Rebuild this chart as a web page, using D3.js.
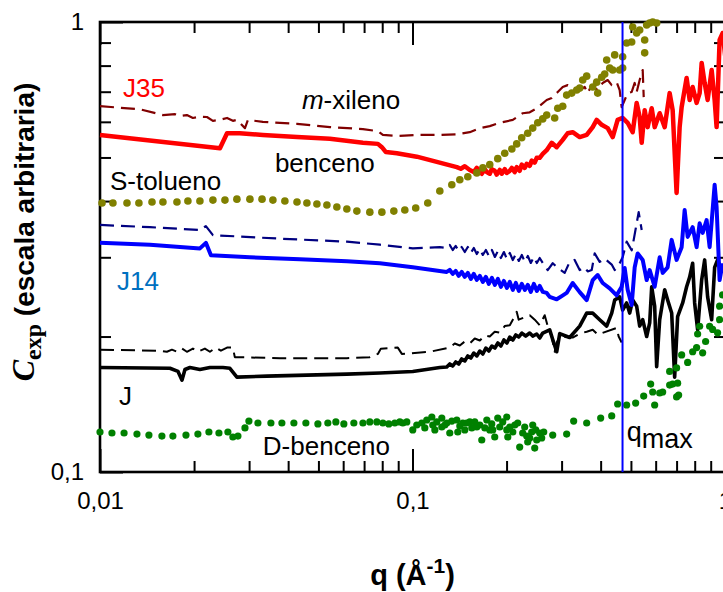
<!DOCTYPE html>
<html><head><meta charset="utf-8">
<script src="https://cdn.jsdelivr.net/npm/d3@7"></script>
<style>
html,body{margin:0;padding:0;background:#fff;}
svg{display:block;}
</style></head><body>
<svg id="chart" width="723" height="592"></svg>
<script>
// C_exp(q) curves, [q (Å^-1), C_exp] pairs

const benceno = [
[0.0100,0.561],[0.0242,0.524],[0.0255,0.566],[0.0280,0.566],[0.0332,0.561],[0.0427,0.555],[0.0544,0.550],[0.0694,0.539],[0.0775,0.536],[0.0798,0.527],[0.0822,0.514],[0.0891,0.511],[0.1032,0.502],[0.1196,0.489],[0.1386,0.476],[0.1427,0.472],[0.147,0.478],[0.1525,0.469],[0.1571,0.464],[0.1606,0.474],[0.1642,0.467],[0.1666,0.460],[0.1704,0.471],[0.1729,0.464],[0.1767,0.460],[0.1793,0.471],[0.1833,0.467],[0.186,0.458],[0.1902,0.469],[0.1930,0.460],[0.1973,0.471],[0.2003,0.462],[0.2048,0.467],[0.2078,0.474],[0.2125,0.464],[0.2155,0.476],[0.2203,0.467],[0.2236,0.482],[0.2286,0.474],[0.2320,0.484],[0.2372,0.479],[0.2407,0.492],[0.2461,0.487],[0.2497,0.499],[0.2553,0.499],[0.2611,0.509],[0.2688,0.519],[0.2789,0.539],[0.2894,0.527],[0.3025,0.547],[0.3137,0.566],[0.3255,0.569],[0.3428,0.555],[0.3609,0.561],[0.3773,0.584],[0.3885,0.606],[0.4031,0.591],[0.4213,0.581],[0.4372,0.555],[0.4534,0.606],[0.4704,0.612],[0.4881,0.597],[0.5065,0.569],[0.5216,0.661],[0.5333,0.615],[0.5413,0.539],[0.5533,0.637],[0.5657,0.584],[0.5827,0.643],[0.5956,0.584],[0.6180,0.627],[0.6412,0.584],[0.6651,0.695],[0.680,0.637],[0.700,0.417],[0.7159,0.584],[0.7266,0.647],[0.7537,0.751],[0.7707,0.671],[0.788,0.717],[0.8113,0.661],[0.8296,0.695],[0.842,0.811],[0.8607,0.732],[0.8799,0.671],[0.9063,0.782],[0.9265,0.671],[0.940,0.584],[0.961,0.912],[0.9825,0.945],[1.005,0.823]
];

const mXileno = [
[0.0100,0.650],[0.01342,0.640],[0.0159,0.621],[0.01738,0.624],[0.01803,0.618],[0.01897,0.621],[0.01983,0.612],[0.02088,0.616],[0.02199,0.615],[0.02298,0.603],[0.0242,0.606],[0.0255,0.612],[0.02662,0.603],[0.02742,0.606],[0.0291,0.581],[0.02974,0.606],[0.0332,0.600],[0.0427,0.594],[0.0544,0.584],[0.0694,0.578],[0.0775,0.572],[0.0804,0.561],[0.0891,0.558],[0.1032,0.561],[0.1196,0.561],[0.1386,0.563],[0.1525,0.569],[0.1642,0.581],[0.1767,0.587],[0.1902,0.597],[0.2094,0.606],[0.2252,0.627],[0.2372,0.630],[0.2497,0.643],[0.2688,0.671],[0.2789,0.678],[0.2916,0.699],[0.3025,0.717],[0.3137,0.724],[0.3255,0.713],[0.3428,0.706],[0.3557,0.717],[0.3636,0.695],[0.3745,0.724],[0.3828,0.713],[0.3914,0.706],[0.4061,0.732],[0.4213,0.743],[0.434,0.724],[0.4501,0.735],[0.4602,0.706],[0.4670,0.647],[0.4775,0.671],[0.4881,0.695],[0.5028,0.699],[0.514,0.732],[0.5216,0.699],[0.5333,0.743],[0.5453,0.782],[0.5494,0.681]
];

const sTolueno = [
[0.01015,0.396],[0.0110,0.396],[0.0122,0.396],[0.01332,0.396],[0.01467,0.398],[0.0159,0.398],[0.01763,0.398],[0.01911,0.400],[0.02088,0.400],[0.02298,0.402],[0.02511,0.402],[0.02742,0.404],[0.03018,0.404],[0.0330,0.404],[0.03575,0.402],[0.03905,0.400],[0.0427,0.398],[0.04593,0.396],[0.04944,0.394],[0.05322,0.392],[0.05727,0.388],[0.06165,0.384],[0.06637,0.380],[0.07302,0.378],[0.0798,0.378],[0.08715,0.380],[0.0945,0.382],[0.1024,0.386],[0.1119,0.396],[0.1223,0.421],[0.1336,0.435],[0.1417,0.446],[0.1503,0.453],[0.1606,0.462],[0.1679,0.474],[0.1767,0.482],[0.1874,0.497],[0.1973,0.511],[0.2079,0.522],[0.2155,0.536],[0.2236,0.553],[0.2337,0.566],[0.2425,0.581],[0.2516,0.597],[0.261,0.609],[0.2688,0.621],[0.2851,0.612],[0.2916,0.643],[0.3025,0.650],[0.3114,0.688],[0.3232,0.695],[0.3353,0.706],[0.3428,0.713],[0.3505,0.743],[0.3609,0.758],[0.3773,0.717],[0.3885,0.735],[0.3914,0.695],[0.4031,0.754],[0.4121,0.766],[0.4182,0.823],[0.4276,0.790],[0.4372,0.782],[0.4436,0.845],[0.4602,0.782],[0.4704,0.790],[0.4704,0.837],[0.4845,0.898],[0.5028,0.903],[0.5065,0.975],[0.5216,0.945],[0.5333,0.960],[0.5533,0.912],[0.5533,0.854],[0.5615,0.985],[0.5741,0.995],[0.587,1.0],[0.6044,0.995]
];

const j14Dashed = [
[0.0100,0.354],[0.01445,0.350],[0.02088,0.345],[0.02182,0.352],[0.02298,0.336],[0.03764,0.330],[0.06165,0.325],[0.07862,0.320],[0.1002,0.314],[0.1223,0.316],[0.1287,0.3146],[0.1316,0.3195],[0.1345,0.3114],[0.1375,0.3179],[0.1406,0.3098],[0.1437,0.3162],[0.147,0.3082],[0.1503,0.3162],[0.1537,0.3067],[0.1571,0.3146],[0.1606,0.3051],[0.1642,0.3130],[0.1679,0.3036],[0.1717,0.3114],[0.1755,0.3020],[0.1795,0.3114],[0.1835,0.3005],[0.1876,0.3098],[0.1918,0.2989],[0.1961,0.3082],[0.2005,0.2974],[0.2048,0.3067],[0.2094,0.2959],[0.2141,0.3051],[0.2189,0.2944],[0.2238,0.3036],[0.2288,0.2929],[0.2339,0.3020],[0.2391,0.2914],[0.2445,0.3005],[0.2500,0.2914],[0.2553,0.2989],[0.2611,0.2914],[0.2708,0.281],[0.281,0.291],[0.2916,0.284],[0.3069,0.277],[0.3184,0.293],[0.3303,0.296],[0.3428,0.281],[0.3557,0.285],[0.3636,0.279],[0.3745,0.281],[0.3828,0.306],[0.3972,0.293],[0.4121,0.298],[0.434,0.289],[0.4436,0.281],[0.4602,0.291],[0.4704,0.300],[0.4845,0.325],[0.5028,0.311],[0.5103,0.328],[0.5216,0.357],[0.5294,0.378],[0.5413,0.345]
];

const j14 = [
[0.0100,0.323],[0.01445,0.320],[0.02088,0.314],[0.02182,0.323],[0.02265,0.303],[0.03018,0.300],[0.04362,0.297],[0.06165,0.294],[0.07862,0.291],[0.1002,0.285],[0.1287,0.2784],[0.1316,0.2812],[0.1345,0.2756],[0.1375,0.2798],[0.1406,0.2728],[0.1437,0.2784],[0.147,0.2714],[0.1503,0.2770],[0.1537,0.2686],[0.1571,0.2756],[0.1606,0.2672],[0.1642,0.2728],[0.1679,0.2645],[0.1717,0.2714],[0.1755,0.2618],[0.1795,0.2700],[0.1835,0.2605],[0.1876,0.2686],[0.1918,0.2578],[0.1961,0.2658],[0.2005,0.2565],[0.2048,0.2645],[0.2094,0.2539],[0.2141,0.2631],[0.2189,0.2526],[0.2238,0.2618],[0.2288,0.2539],[0.2339,0.2605],[0.2391,0.2513],[0.2445,0.2618],[0.2500,0.2526],[0.2553,0.2591],[0.2611,0.2513],[0.2688,0.250],[0.2748,0.245],[0.2894,0.242],[0.3003,0.246],[0.3114,0.250],[0.3255,0.263],[0.3428,0.251],[0.3609,0.241],[0.3773,0.267],[0.3914,0.274],[0.4061,0.263],[0.4276,0.256],[0.4501,0.247],[0.467,0.258],[0.4775,0.284],[0.4881,0.254],[0.5028,0.235],[0.514,0.285],[0.5255,0.306],[0.5453,0.296],[0.5615,0.267],[0.5741,0.281],[0.5956,0.258],[0.618,0.300],[0.6318,0.277],[0.6553,0.285],[0.6751,0.328],[0.700,0.296],[0.7266,0.316],[0.7427,0.382],[0.7594,0.333],[0.788,0.350],[0.8113,0.316],[0.8296,0.357],[0.8482,0.340],[0.8733,0.363],[0.893,0.316],[0.9265,0.435],[0.940,0.388],[0.961,0.267],[0.9825,0.291]
];

const jDashed = [
[0.0100,0.187],[0.01555,0.186],[0.01637,0.185],[0.01699,0.187],[0.01763,0.185],[0.0183,0.188],[0.01897,0.185],[0.01983,0.188],[0.02057,0.185],[0.02166,0.188],[0.02248,0.185],[0.0235,0.189],[0.02438,0.186],[0.0255,0.189],[0.02662,0.189],[0.0270,0.180],[0.03764,0.179],[0.06165,0.179],[0.07302,0.180],[0.0775,0.183],[0.0792,0.188],[0.08974,0.189],[0.09245,0.183],[0.1136,0.185],[0.1316,0.189],[0.1365,0.193],[0.1417,0.191],[0.147,0.195],[0.1525,0.193],[0.1582,0.198],[0.1642,0.196],[0.1704,0.201],[0.1767,0.200],[0.1833,0.205],[0.1902,0.204],[0.1973,0.211],[0.2048,0.212],[0.2094,0.218],[0.2155,0.227],[0.2187,0.218],[0.2372,0.223],[0.2461,0.218],[0.2553,0.212],[0.2649,0.223],[0.2708,0.211],[0.2789,0.200],[0.2851,0.185],[0.2894,0.194],[0.2959,0.200],[0.3255,0.199],[0.3428,0.203],[0.3609,0.205],[0.3773,0.207],[0.3914,0.202],[0.4501,0.209],[0.4568,0.200],[0.467,0.194]
];

const j = [
[0.0100,0.1707],[0.01674,0.170],[0.01777,0.1673],[0.0183,0.160],[0.0187,0.169],[0.0194,0.1707],[0.02088,0.169],[0.02248,0.1707],[0.02474,0.1707],[0.02604,0.170],[0.02742,0.1625],[0.0342,0.1633],[0.06165,0.165],[0.07862,0.166],[0.1002,0.1673],[0.1223,0.1707],[0.1287,0.1711],[0.1316,0.1738],[0.1345,0.1720],[0.1375,0.1756],[0.1406,0.1738],[0.1437,0.1783],[0.147,0.1765],[0.1503,0.1811],[0.1537,0.1792],[0.1571,0.1838],[0.1606,0.1811],[0.1642,0.1857],[0.1679,0.1829],[0.1717,0.1886],[0.1755,0.1857],[0.1795,0.1905],[0.1835,0.1886],[0.1876,0.1935],[0.1918,0.1905],[0.1961,0.1965],[0.2005,0.1935],[0.2048,0.1995],[0.2094,0.1965],[0.2141,0.2016],[0.2189,0.1995],[0.2238,0.2036],[0.2303,0.2005],[0.2372,0.2036],[0.2425,0.2005],[0.2497,0.2026],[0.2553,0.1985],[0.2611,0.2036],[0.2748,0.207],[0.281,0.197],[0.2894,0.185],[0.2959,0.203],[0.3184,0.199],[0.3428,0.211],[0.3609,0.2255],[0.3773,0.2255],[0.3972,0.218],[0.4182,0.211],[0.434,0.2255],[0.4436,0.241],[0.4602,0.245],[0.4704,0.229],[0.4845,0.2375],[0.4954,0.2255],[0.5065,0.241],[0.5216,0.2335],[0.5333,0.211],[0.5453,0.218],[0.5615,0.200],[0.5741,0.2145],[0.5827,0.258],[0.5956,0.2335],[0.6044,0.1715],[0.618,0.218],[0.6412,0.254],[0.6553,0.241],[0.6751,0.2255],[0.690,0.1625],[0.7054,0.2215],[0.732,0.2375],[0.7537,0.258],[0.7707,0.271],[0.788,0.291],[0.7996,0.2375],[0.8174,0.207],[0.842,0.267],[0.8607,0.296],[0.8799,0.245],[0.9063,0.218],[0.9265,0.285],[0.9469,0.296],[0.9754,0.281]
];

const dBenceno = [
[0.0100,0.1227],[0.01092,0.1221],[0.01194,0.1221],[0.01313,0.1214],[0.01434,0.1208],[0.01578,0.1202],[0.01711,0.1202],[0.01884,0.1208],[0.02057,0.1214],[0.02231,0.1227],[0.02402,0.1221],[0.02566,0.1227],[0.02662,0.1196],[0.02763,0.1202],[0.0291,0.1253],[0.02996,0.1298],[0.03201,0.1285],[0.03523,0.1285],[0.0382,0.1285],[0.04173,0.1285],[0.04558,0.1285],[0.0498,0.1279],[0.05359,0.1285],[0.05685,0.1292],[0.0603,0.1279],[0.06491,0.1285],[0.0694,0.1285],[0.07302,0.1292],[0.0769,0.1292],[0.0804,0.1285],[0.08398,0.1279],[0.08778,0.1285],[0.09108,0.1292],[0.09312,0.1285],[0.09589,0.1292],[0.1002,0.1240],[0.1032,0.1272],[0.1071,0.1285],[0.1095,0.1253],[0.1111,0.1305],[0.1153,0.1325],[0.1161,0.1272],[0.1179,0.1240],[0.1196,0.1292],[0.1241,0.1318],[0.1241,0.1259],[0.1269,0.1272],[0.1287,0.1285],[0.1316,0.1221],[0.1336,0.1298],[0.1386,0.1305],[0.1396,0.1227],[0.1417,0.1265],[0.1449,0.1285],[0.147,0.1240],[0.1491,0.1285],[0.1525,0.1292],[0.1548,0.1253],[0.1582,0.1292],[0.1606,0.1259],[0.1642,0.1272],[0.1666,0.1178],[0.1704,0.1253],[0.1729,0.1305],[0.1767,0.1240],[0.1793,0.1279],[0.1806,0.1240],[0.1833,0.1196],[0.1874,0.1318],[0.1902,0.1259],[0.1944,0.1292],[0.2003,0.1325],[0.2003,0.1240],[0.2018,0.1196],[0.2048,0.1259],[0.2094,0.1227],[0.2125,0.1272],[0.2171,0.1285],[0.2203,0.1136],[0.2252,0.1221],[0.2286,0.1259],[0.2320,0.1202],[0.2337,0.1166],[0.2372,0.1190],[0.2407,0.1227],[0.2425,0.1272],[0.2461,0.1130],[0.2479,0.1240],[0.2497,0.1178],[0.2553,0.1221],[0.2591,0.1190],[0.2630,0.1227],[0.281,0.1208],[0.3114,0.1214],[0.3279,0.1298],[0.3609,0.1285],[0.4001,0.1318],[0.434,0.1332],[0.4534,0.1416],[0.4845,0.1409],[0.5177,0.1423],[0.5493,0.1475],[0.5783,0.1568],[0.587,0.1506],[0.5956,0.1409],[0.618,0.1498],[0.6318,0.1506],[0.6651,0.1560],[0.6651,0.1673],[0.680,0.1568],[0.700,0.1703],[0.700,0.1468],[0.7106,0.1483],[0.7054,0.1575],[0.7266,0.1820],[0.7594,0.1752],[0.788,0.1850],[0.8113,0.1890],[0.8174,0.2026],[0.8296,0.2108],[0.8482,0.1840],[0.8669,0.1950],[0.893,0.2108],[0.913,0.2074],[0.9469,0.2038],[0.961,0.2180],[0.961,0.2336],[0.9825,0.2474]
];

const qMax = 0.47;
const qTickLabels = [0.01, 0.1, 1];
const cTickLabels = [0.1, 1];

// ---- layout ----
const svg = d3.select("#chart");
const x = d3.scaleLog().domain([0.01, 1]).range([100, 725]);
const y = d3.scaleLog().domain([0.1, 1]).range([472, 22]);
const sans = "'Liberation Sans', Arial, Helvetica, sans-serif";
const serif = "'Liberation Serif', 'Times New Roman', serif";

const es = d3.formatLocale({decimal: ",", thousands: ".", grouping: [3], currency: ["", " €"]});
const fmt = es.format("~g");

const xMinor = x.ticks().filter(v => !qTickLabels.some(m => Math.abs(m - v) < 1e-9));
const yMinor = y.ticks().filter(v => !cTickLabels.some(m => Math.abs(m - v) < 1e-9));

function styleAxis(g) {
  g.select(".domain").remove();
  g.selectAll(".tick line").attr("stroke", "#000").attr("stroke-width", 2);
  g.selectAll(".tick text").attr("fill", "#000");
  g.attr("font-family", sans).attr("font-size", 24);
}

const x0 = x.range()[0], x1 = x.range()[1], yb = y.range()[0], yt = y.range()[1];

// bottom
svg.append("g").attr("transform", `translate(0,${yb})`)
  .call(d3.axisBottom(x).tickValues(xMinor).tickSize(-11).tickFormat("")).call(styleAxis);
svg.append("g").attr("transform", `translate(0,${yb})`)
  .call(d3.axisBottom(x).tickValues(qTickLabels).tickSize(-23).tickPadding(20).tickFormat(fmt)).call(styleAxis);
// top
svg.append("g").attr("transform", `translate(0,${yt})`)
  .call(d3.axisTop(x).tickValues(xMinor).tickSize(-11).tickFormat("")).call(styleAxis);
svg.append("g").attr("transform", `translate(0,${yt})`)
  .call(d3.axisTop(x).tickValues(qTickLabels).tickSize(-23).tickFormat("")).call(styleAxis);
// left
svg.append("g").attr("transform", `translate(${x0},0)`)
  .call(d3.axisLeft(y).tickValues(yMinor).tickSize(-11).tickFormat("")).call(styleAxis);
svg.append("g").attr("transform", `translate(${x0},0)`)
  .call(d3.axisLeft(y).tickValues(cTickLabels).tickSize(-23).tickPadding(16).tickFormat(fmt)).call(styleAxis);
// right
svg.append("g").attr("transform", `translate(${x1},0)`)
  .call(d3.axisRight(y).tickValues(yMinor).tickSize(-11).tickFormat("")).call(styleAxis);

// frame
svg.append("rect").attr("x", x0).attr("y", yt)
  .attr("width", x1 - x0).attr("height", yb - yt)
  .attr("fill", "none").attr("stroke", "#000").attr("stroke-width", 2.6);

// curves
const line = d3.line().x(d => x(d[0])).y(d => y(d[1]));
function curve(data, color, width, dash) {
  const p = svg.append("path").datum(data).attr("d", line)
    .attr("fill", "none").attr("stroke", color).attr("stroke-width", width)
    .attr("stroke-linejoin", "round").attr("stroke-linecap", "butt");
  if (dash) p.attr("stroke-dasharray", dash);
}
curve(jDashed, "#000000", 2, "14,7");
curve(j, "#000000", 3.6);
curve(j14Dashed, "#000080", 2.2, "14,7");
curve(j14, "#0000ff", 4);
curve(mXileno, "#800000", 2.2, "14,7");
curve(benceno, "#ff0000", 4.5);

function dots(data, color, r) {
  svg.append("g").selectAll("circle").data(data).join("circle")
    .attr("cx", d => x(d[0])).attr("cy", d => y(d[1])).attr("r", r).attr("fill", color);
}
dots(sTolueno, "#808000", 3.8);
dots(dBenceno, "#008000", 3.6);

// q_max marker
svg.append("line").attr("x1", x(qMax)).attr("x2", x(qMax)).attr("y1", yt).attr("y2", yb)
  .attr("stroke", "#0000ff").attr("stroke-width", 2);

// curve labels
function label(q, c, parts, color, size) {
  const t = svg.append("text").attr("x", x(q)).attr("y", y(c))
    .attr("font-family", sans).attr("font-size", size || 26).attr("fill", color || "#000");
  parts.forEach(pt => {
    const s = t.append("tspan").text(pt.t);
    if (pt.italic) s.attr("font-style", "italic");
    if (pt.dy) s.attr("dy", pt.dy);
  });
  return t;
}
label(0.01185, 0.681, [{t: "J35"}], "#ff0000");
label(0.04427, 0.640, [{t: "m", italic: true}, {t: "-xileno"}]);
label(0.03628, 0.464, [{t: "benceno"}]);
label(0.01076, 0.423, [{t: "S-tolueno"}]);
label(0.01133, 0.254, [{t: "J14"}], "#0070c0");
label(0.0115, 0.1409, [{t: "J"}]);
label(0.0332, 0.1092, [{t: "D-benceno"}]);
label(0.4845, 0.1172, [{t: "q"}, {t: "max", dy: 7}], "#000", 27);

// axis titles
svg.append("text").attr("x", x(0.1)).attr("y", 585).attr("text-anchor", "middle")
  .attr("font-family", sans).attr("font-weight", "bold").attr("font-size", 29)
  .call(t => {
    t.append("tspan").text("q (Å");
    t.append("tspan").text("-1").attr("font-size", 21).attr("dy", -12);
    t.append("tspan").text(")").attr("dy", 12);
  });

svg.append("text").attr("transform", "translate(34,232) rotate(-90)").attr("text-anchor", "middle")
  .attr("font-weight", "bold")
  .call(t => {
    t.append("tspan").text("C").attr("font-family", serif).attr("font-style", "italic").attr("font-size", 32);
    t.append("tspan").text("exp").attr("font-family", serif).attr("font-size", 24).attr("dy", 7);
    t.append("tspan").text(" (escala arbitraria)").attr("font-family", sans).attr("font-size", 28).attr("dy", -7);
  });
</script>
</body></html>
